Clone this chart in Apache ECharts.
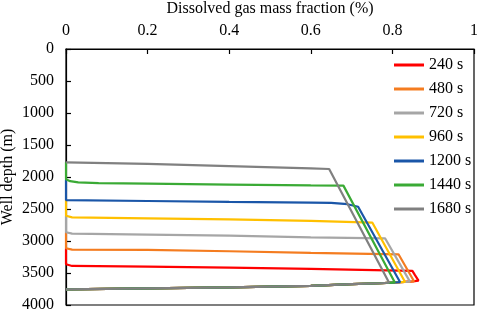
<!DOCTYPE html>
<html><head><meta charset="utf-8">
<script src="https://cdn.jsdelivr.net/npm/echarts@6/dist/echarts.min.js"></script>
<style>html,body{margin:0;padding:0;background:#fff}#c{width:477px;height:313px}</style>
</head><body><div id="c"></div>
<script>
// series names
const names = ['240 s','480 s','720 s','960 s','1200 s','1440 s','1680 s'];
const colors = ['#FF0000','#F47C20','#A6A6A6','#FFC000','#1A56A8','#3AAA35','#808080'];
// profiles: [fraction, depth(m)] up to the bottom tip
const s240  = [[0,3114],[0,3364],[0.015,3390],[0.2,3400],[0.4,3415],[0.6,3437],[0.849,3466],[0.855,3530],[0.864,3618]];
const s480  = [[0,2864],[0,3114],[0.015,3135],[0.2,3140],[0.4,3160],[0.6,3187],[0.815,3208],[0.853,3630]];
const s720  = [[0,2605],[0,2864],[0.015,2885],[0.2,2899],[0.4,2915],[0.6,2942],[0.782,2958],[0.843,3635]];
const s960  = [[0,2360],[0,2605],[0.015,2630],[0.2,2646],[0.4,2662],[0.6,2687],[0.751,2714],[0.831,3640]];
const s1200 = [[0,2036],[0,2360],[0.2,2375],[0.4,2388],[0.6,2400],[0.65,2405],[0.69,2425],[0.716,2464],[0.819,3644]];
const s1440 = [[0,1770],[0,2036],[0.01,2065],[0.03,2085],[0.08,2095],[0.2,2104],[0.4,2118],[0.6,2132],[0.68,2135],[0.806,3648]];
const s1680 = [[0,1770],[0.2,1795],[0.4,1830],[0.6,1865],[0.645,1875],[0.792,3652]];
// common bottom return curve
const bottom = [[0.85,3632],[0.83,3640],[0.8,3650],[0.77,3660],[0.7,3675],[0.6,3700],[0.4,3725],[0.2,3740],[0,3755]];
const profiles = [s240,s480,s720,s960,s1200,s1440,s1680];
const xTicks = {min:0,max:1,interval:0.2};
const yTicks = {min:0,max:4000,interval:500};

const font = 'Liberation Serif';
const series = profiles.map((p,i)=>{
  const xb = p[p.length-1][0];
  const data = p.concat(bottom.filter(b=>b[0] < xb));
  return {name:names[i],type:'line',data:data,symbol:'none',showSymbol:false,
    lineStyle:{color:colors[i],width:2.2},itemStyle:{color:colors[i]},z:2+i,animation:false};
});
const chart = echarts.init(document.getElementById('c'));
chart.setOption({
  animation:false,
  backgroundColor:'#fff',
  grid:{left:66,right:3,top:49,bottom:8,show:true,borderColor:'#000',borderWidth:1.2,containLabel:false,outerBoundsMode:'none'},
  legend:{data:names,orient:'vertical',left:389,top:52,itemWidth:30,itemHeight:14,itemGap:8,
    icon:'path://M0,0 L10,0 L10,1 L0,1 Z',
    textStyle:{fontFamily:font,fontSize:16,color:'#000',lineHeight:16}},
  xAxis:{type:'value',position:'top',min:xTicks.min,max:xTicks.max,interval:xTicks.interval,
    name:'Dissolved gas mass fraction (%)',nameLocation:'middle',nameGap:32,
    nameTextStyle:{fontFamily:font,fontSize:16,color:'#000'},
    axisLine:{show:true,lineStyle:{color:'#000',width:1.2}},
    axisTick:{show:true,inside:true,length:5,lineStyle:{color:'#000',width:1.2}},
    axisLabel:{fontFamily:font,fontSize:16,color:'#000',margin:10,formatter:v=>String(v)},
    splitLine:{show:false}},
  yAxis:{type:'value',inverse:true,min:yTicks.min,max:yTicks.max,interval:yTicks.interval,
    name:'Well depth (m)',nameLocation:'middle',nameGap:50,nameRotate:90,nameMoveOverlap:false,
    nameTextStyle:{fontFamily:font,fontSize:16,color:'#000'},
    axisLine:{show:true,lineStyle:{color:'#000',width:1.2}},
    axisTick:{show:true,inside:true,length:5,lineStyle:{color:'#000',width:1.2}},
    axisLabel:{fontFamily:font,fontSize:16,color:'#000',margin:12,formatter:v=>String(v)},
    splitLine:{show:false}},
  series:series
});
</script></body></html>
